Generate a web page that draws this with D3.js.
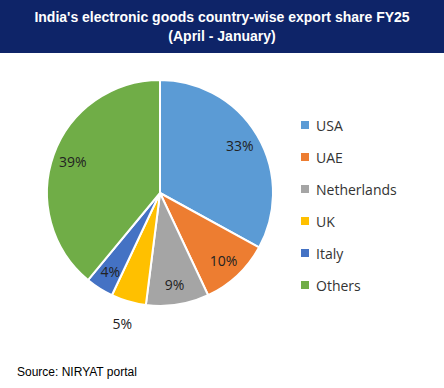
<!DOCTYPE html>
<html>
<head>
<meta charset="utf-8">
<script src="https://cdn.jsdelivr.net/npm/d3@7"></script>
<style>
  body { margin: 0; background: #fff; }
  svg { display: block; }
</style>
</head>
<body>
<div id="chart"></div>
<script>
var WIDTH = 444, HEIGHT = 388;

// data
var countries = ["USA", "UAE", "Netherlands", "UK", "Italy", "Others"];
var shares = [33, 10, 9, 5, 4, 39];
var colors = ["#5b9bd5", "#ed7d31", "#a5a5a5", "#ffc000", "#4472c4", "#70ad47"];

var svg = d3.select("#chart").append("svg").attr("width", WIDTH).attr("height", HEIGHT)

// title band
svg.append("rect").attr("x", 0).attr("y", 0).attr("width", WIDTH).attr("height", 53).attr("fill", "#0e2468")
svg.append("text").attr("x", WIDTH / 2).attr("y", 22).attr("text-anchor", "middle")
  .attr("font-family", "Liberation Sans, Arial, sans-serif").attr("font-weight", "bold").attr("font-size", 14)
  .attr("fill", "#fff").text("India's electronic goods country-wise export share FY25")
svg.append("text").attr("x", WIDTH / 2).attr("y", 41).attr("text-anchor", "middle")
  .attr("font-family", "Liberation Sans, Arial, sans-serif").attr("font-weight", "bold").attr("font-size", 14)
  .attr("fill", "#fff").text("(April - January)")

var cx = 160, cy = 193, R = 113;
var color = d3.scaleOrdinal().domain(countries).range(colors)

var pie = d3.pie().sort(null).value(d => d.value)
var data = countries.map((c, i) => ({ name: c, value: shares[i] }))
var arcs = pie(data)

var arc = d3.arc().innerRadius(0).outerRadius(R)
var labelArc = d3.arc().innerRadius(R * 0.82).outerRadius(R * 0.82)
var outerArc = d3.arc().innerRadius(R * 1.2).outerRadius(R * 1.2)

var pie_g = svg.append("g").attr("transform", "translate(" + cx + "," + cy + ")")

pie_g.selectAll("path").data(arcs).enter().append("path")
  .attr("d", arc).attr("fill", d => color(d.data.name))
  .attr("stroke", "#fff").attr("stroke-width", 2).attr("stroke-linejoin", "round")

// UK label sits outside the pie, the rest inside
pie_g.selectAll("text").data(arcs).enter().append("text")
  .attr("transform", d => {
    var p = d.data.name == "UK" ? outerArc.centroid(d) : labelArc.centroid(d)
    return "translate(" + p[0] + "," + p[1] + ")"
  })
  .attr("text-anchor", "middle").attr("dominant-baseline", "central")
  .attr("font-family", "Open Sans, sans-serif").attr("font-size", 14).attr("fill", "#222")
  .text(d => d.data.value + "%")

// legend
var legend = svg.append("g").attr("transform", "translate(301,125)")
countries.forEach((c, i) => {
  var row = legend.append("g").attr("transform", "translate(0," + (i * 32) + ")")
  row.append("rect").attr("x", 0).attr("y", -4).attr("width", 8).attr("height", 8).attr("fill", color(c))
  row.append("text").attr("x", 15).attr("y", 0).attr("dominant-baseline", "central")
    .attr("font-family", "Open Sans, sans-serif").attr("font-size", 14).attr("fill", "#333").text(c)
})

svg.append("text").attr("x", 17).attr("y", 376)
  .attr("font-family", "Liberation Sans, Arial, sans-serif").attr("font-size", 12).attr("fill", "#000")
  .text("Source: NIRYAT portal")
</script>
</body>
</html>
